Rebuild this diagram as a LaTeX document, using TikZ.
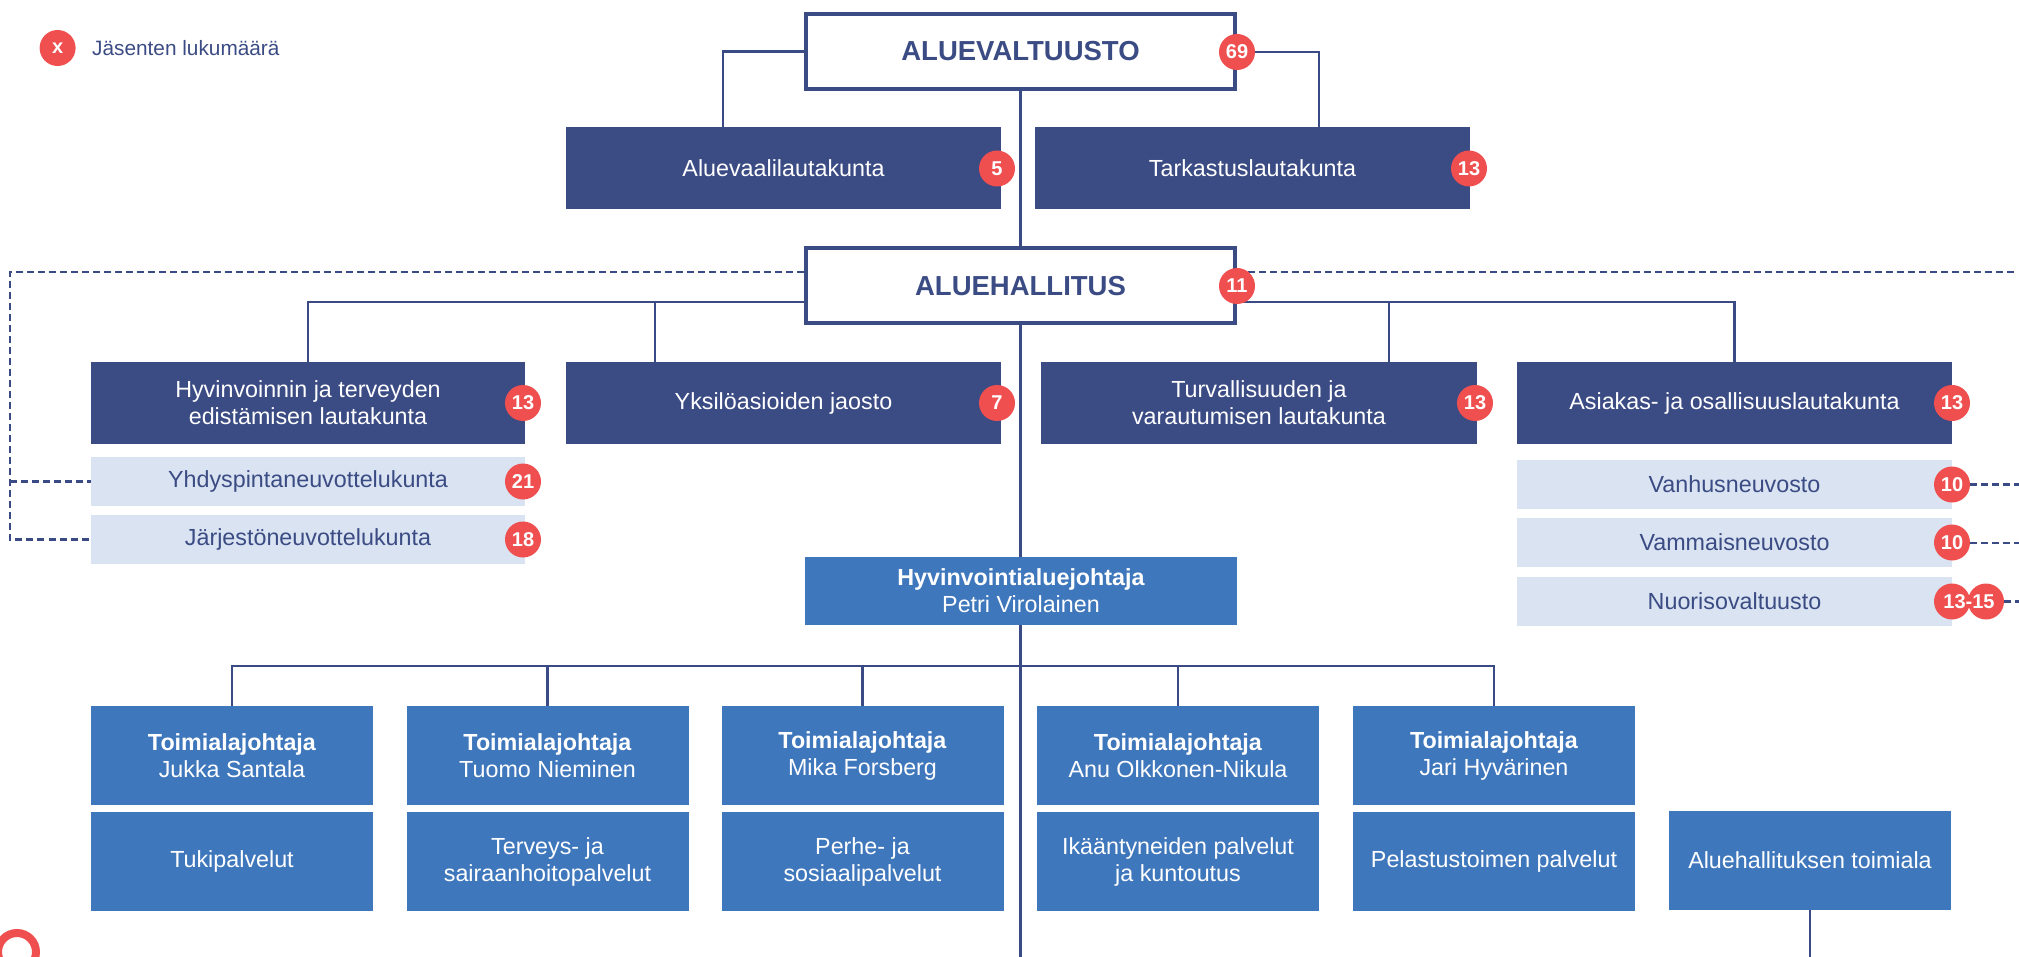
\documentclass[tikz,border=0pt]{standalone}
\usepackage{fontspec}
\setmainfont{Liberation Sans}
\usetikzlibrary{backgrounds}
\definecolor{navy}{HTML}{3B4B84}
\definecolor{lightb}{HTML}{D9E3F1}
\definecolor{midb}{HTML}{3F77BC}
\definecolor{badgered}{HTML}{EF4F4F}
\definecolor{linec}{HTML}{3A4A85}
\begin{document}
\begin{tikzpicture}[x=1pt,y=-1pt,
 body/.style={font=\fontsize{23.3}{27}\selectfont, align=center, inner sep=0pt, outer sep=0pt},
 darkbox/.style={body, fill=navy, text=white, minimum height=82pt},
 lightbox/.style={body, fill=lightb, text=navy, minimum width=434pt, minimum height=49pt},
 midbox/.style={body, fill=midb, text=white, minimum width=282pt, minimum height=99pt},
 topbox/.style={draw=navy, line width=4pt, fill=white, text=navy, font=\fontsize{27.5}{32}\selectfont\bfseries, inner sep=0pt, minimum width=429pt, minimum height=75pt},
 badge/.style={circle, fill=badgered, text=white, font=\fontsize{20}{22}\selectfont\bfseries, minimum size=36pt, inner sep=0pt},
 conn/.style={draw=linec, line width=2.6pt},
 dashline/.style={draw=linec, line width=2.6pt, dash pattern=on 7pt off 4pt},
]
\useasboundingbox (0,0) rectangle (2019,957);

% legend
\node[badge] (lx) at (57.6,48) {x};
\node[anchor=west, text=navy, font=\fontsize{20.8}{24}\selectfont, inner sep=0pt] (lt) at (92,48) {Jäsenten lukumäärä};

% top level
\node[topbox] (valt) at (1020.5,51.5) {ALUEVALTUUSTO};
\node[badge] (b69) at (1237,52) {69};
\node[darkbox, minimum width=435pt] (avl) at (783.5,168.5) {Aluevaalilautakunta};
\node[badge] (b5) at (997,168.5) {5};
\node[darkbox, minimum width=435pt] (tark) at (1252.5,168.5) {Tarkastuslautakunta};
\node[badge] (b13t) at (1469,168.5) {13};

\node[topbox] (hall) at (1020.5,286) {ALUEHALLITUS};
\node[badge] (b11) at (1237,286) {11};

% row 2
\node[darkbox, minimum width=434pt] (hyv) at (308,403) {Hyvinvoinnin ja terveyden\\edistämisen lautakunta};
\node[badge] (b13h) at (523,403) {13};
\node[darkbox, minimum width=435pt] (yks) at (783.5,403) {Yksilöasioiden jaosto};
\node[badge] (b7) at (997,403) {7};
\node[darkbox, minimum width=436pt] (turv) at (1259,403) {Turvallisuuden ja\\varautumisen lautakunta};
\node[badge] (b13v) at (1475,403) {13};
\node[darkbox, minimum width=435pt] (asi) at (1734.5,403) {Asiakas- ja osallisuuslautakunta};
\node[badge] (b13a) at (1952,403) {13};

% light boxes
\node[lightbox] (yhd) at (308,481.5) {Yhdyspintaneuvottelukunta};
\node[badge] (b21) at (523,481.5) {21};
\node[lightbox] (jarj) at (308,539.5) {Järjestöneuvottelukunta};
\node[badge] (b18) at (523,539.5) {18};
\node[lightbox, minimum width=435pt] (vanh) at (1734.5,484.5) {Vanhusneuvosto};
\node[badge] (b10a) at (1952,484.5) {10};
\node[lightbox, minimum width=435pt] (vamm) at (1734.5,542.5) {Vammaisneuvosto};
\node[badge] (b10b) at (1952,542.5) {10};
\node[lightbox, minimum width=435pt] (nuor) at (1734.5,601.5) {Nuorisovaltuusto};
\node[badge] (b13n) at (1952,601.5) {};
\node[badge] (b15n) at (1986,601.5) {};
\node[text=white, font=\fontsize{20}{22}\selectfont\bfseries, inner sep=0pt] (range) at (1969,601.5) {13-15};

% director
\node[body, fill=midb, text=white, minimum width=432pt, minimum height=68pt] (hvj) at (1021,591) {\textbf{Hyvinvointialuejohtaja}\\Petri Virolainen};

% bottom boxes
\node[midbox] (t1) at (232,755.5) {\textbf{Toimialajohtaja}\\Jukka Santala};
\node[midbox] (t2) at (547.5,755.5) {\textbf{Toimialajohtaja}\\Tuomo Nieminen};
\node[midbox] (t3) at (862.5,755.5) {\textbf{Toimialajohtaja}\\Mika Forsberg};
\node[midbox] (t4) at (1178,755.5) {\textbf{Toimialajohtaja}\\Anu Olkkonen-Nikula};
\node[midbox] (t5) at (1494,755.5) {\textbf{Toimialajohtaja}\\Jari Hyvärinen};
\node[midbox] (s1) at (232,861.5) {Tukipalvelut};
\node[midbox] (s2) at (547.5,861.5) {Terveys- ja\\sairaanhoitopalvelut};
\node[midbox] (s3) at (862.5,861.5) {Perhe- ja\\sosiaalipalvelut};
\node[midbox] (s4) at (1178,861.5) {Ikääntyneiden palvelut\\ja kuntoutus};
\node[midbox] (s5) at (1494,861.5) {Pelastustoimen palvelut};
\node[midbox] (s6) at (1810,860.5) {Aluehallituksen toimiala};

% red ring (partly outside)
\begin{scope}
\clip (0,0) rectangle (2019,957);
\draw[badgered, line width=8pt] (17,952) circle (19);
\end{scope}

\coordinate (cbot) at (1020.5,957);
\coordinate (hbar) at (0,302);
\coordinate (hbar2) at (0,666);
\coordinate (dl) at (10,0);
\coordinate (dr) at (2019,0);
\coordinate (bb) at (0,957);

\begin{scope}[on background layer]
\draw[conn] (valt.south) -- (cbot);
\draw[conn] (valt.west) -| ([xshift=157pt]avl.north west);
\draw[conn] (b69.east) -| ([xshift=284pt]tark.north west);
\draw[conn] (hyv.north) |- (hbar -| asi.north) -- (asi.north);
\draw[conn] ([xshift=89pt]yks.north west) -- ([xshift=89pt]yks.north west |- hbar);
\draw[conn] ([xshift=348pt]turv.north west) -- ([xshift=348pt]turv.north west |- hbar);
\draw[conn] (t1.north) |- (hbar2 -| t5.north) -- (t5.north);
\draw[conn] (t2.north) -- (t2.north |- hbar2);
\draw[conn] (t3.north) -- (t3.north |- hbar2);
\draw[conn] (t4.north) -- (t4.north |- hbar2);
\draw[conn] (s6.south) -- (s6.south |- bb);
\draw[dashline] ([yshift=14pt]hall.west) -| (dl |- jarj.west) -- (jarj.west);
\draw[dashline] (dl |- yhd.west) -- (yhd.west);
\draw[dashline] ([yshift=14pt]hall.east) -- ++(780,0);
\draw[dashline, line width=3pt] (b10a.east) -- (dr |- b10a.east);
\draw[dashline, line width=2pt] (b10b.east) -- (dr |- b10b.east);
\draw[dashline] (b15n.east) -- (dr |- b15n.east);
\end{scope}
\end{tikzpicture}
\end{document}
